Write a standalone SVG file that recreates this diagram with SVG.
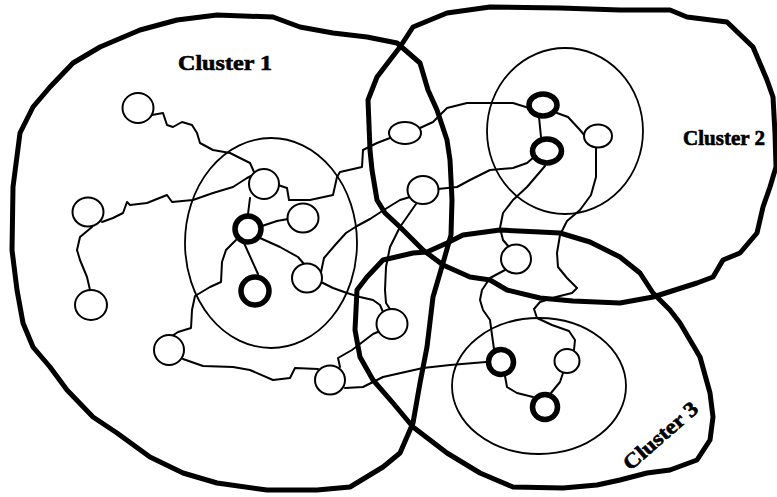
<svg xmlns="http://www.w3.org/2000/svg" width="777" height="497" viewBox="0 0 777 497">
<style>
.outline{fill:none;stroke:#000;stroke-width:5;stroke-linejoin:round;stroke-linecap:round}
.inner{fill:none;stroke:#000;stroke-width:1.8}
.edge{fill:none;stroke:#000;stroke-width:2;stroke-linejoin:round;stroke-linecap:round}
.node{fill:#fff;stroke:#000;stroke-width:2}
.hub{fill:#fff;stroke:#000;stroke-width:5.5}
.label{font-family:"Liberation Serif","Times New Roman",serif;font-weight:bold;fill:#000;stroke:#000;stroke-width:0.6}
</style>
<rect width="777" height="497" fill="#fff"/>
<g id="cluster1">
<path class="outline" d="M12,250 L13,187 L20,133 L33,107 L50,87 L73,63 L100,47 L140,30 L177,20 L217,15 L273,17 L300,27 L333,33 L367,37 L397,43 L420,63 L428,90 L437,110 L447,140 L450,160 L452,200 L451,235 L443,263 L433,297 L427,347 L420,383 L413,423 L400,453 L383,467 L350,487 L317,490 L267,490 L217,483 L183,473 L150,457 L117,433 L93,417 L67,390 L50,367 L33,347 L23,323 L17,290 Z"/>
<ellipse class="inner" cx="271" cy="243" rx="86" ry="105"/>
<text class="label" x="178" y="70" font-size="21" textLength="94" lengthAdjust="spacingAndGlyphs">Cluster 1</text>
</g>
<g id="cluster2">
<path class="outline" d="M400,47 L413,27 L447,13 L490,7 L560,8 L620,10 L670,10 L687,17 L727,22 L753,47 L767,80 L773,97 L775,133 L776,167 L770,187 L763,207 L757,233 L740,253 L723,260 L713,277 L697,283 L653,297 L620,303 L573,301 L540,298 L507,290 L490,280 L470,277 L443,265 L423,250 L400,227 L385,213 L377,200 L372,170 L370,150 L368,100 L377,77 L390,60 Z"/>
<ellipse class="inner" cx="565" cy="131" rx="78" ry="83"/>
<text class="label" x="683" y="145" font-size="20" textLength="82" lengthAdjust="spacingAndGlyphs">Cluster 2</text>
</g>
<g id="cluster3">
<path class="outline" d="M357,290 L367,277 L383,260 L413,253 L427,252 L447,243 L463,235 L500,230 L540,232 L560,233 L590,242 L620,257 L640,273 L653,293 L670,310 L680,323 L700,357 L710,393 L713,417 L710,440 L697,460 L670,470 L647,473 L620,480 L597,485 L563,488 L513,487 L480,473 L447,453 L413,427 L393,403 L373,380 L360,357 L355,330 Z"/>
<ellipse class="inner" cx="539" cy="386" rx="87" ry="68"/>
<text class="label" x="0" y="0" font-size="21" text-anchor="middle" textLength="92" lengthAdjust="spacingAndGlyphs" transform="translate(665,441) rotate(-41)">Cluster 3</text>
</g>
<g id="connectors">
<path class="edge" d="M152,115 L163,113 L167,125 L173,127 L182,122 L192,125 L197,133 L200,143 L213,150 L230,153 L240,158 L250,163 L254,172"/>
<path class="edge" d="M102,222 L113,218 L123,213 L127,202 L130,205 L147,203 L167,195 L172,202 L193,200 L213,193 L233,187 L247,178 L251,176"/>
<path class="edge" d="M92,227 L80,237 L77,250 L80,260 L87,277 L90,290"/>
<path class="edge" d="M250,198 L248,214"/>
<path class="edge" d="M278,185 L287,188 L289,200 L310,200 L333,195 L337,177 L340,172 L362,167 L363,150 L377,143 L390,138"/>
<path class="edge" d="M262,226 L277,221 L288,219"/>
<path class="edge" d="M244,243 L258,274"/>
<path class="edge" d="M236,240 L226,250 L222,262 L221,282 L210,287 L195,296 L192,310 L191,328 L178,332 L172,336"/>
<path class="edge" d="M260,238 L280,247 L298,257 L304,264"/>
<path class="edge" d="M321,272 L324,258 L336,244 L346,233 L357,226 L370,219 L387,208 L400,200 L410,197"/>
<path class="edge" d="M416,204 L400,227 L390,247 L386,267 L385,290 L386,303 L390,309"/>
<path class="edge" d="M438,189 L457,187 L470,180 L490,170 L513,168 L527,163 L534,157"/>
<path class="edge" d="M420,128 L433,122 L447,108 L467,103 L513,103 L529,108"/>
<path class="edge" d="M539,117 L541,137"/>
<path class="edge" d="M557,113 L568,117 L580,130 L585,136"/>
<path class="edge" d="M545,166 L527,187 L513,200 L503,213 L500,228 L503,240 L509,247"/>
<path class="edge" d="M596,148 L596,177 L591,195 L580,210 L567,221 L560,235 L557,253 L558,267 L567,278 L577,288 L572,293 L556,297 L540,302 L534,309 L537,318 L552,325 L569,331 L575,340 L574,350"/>
<path class="edge" d="M505,270 L490,278 L482,290 L480,300 L483,310 L490,320 L492,335 L494,349"/>
<path class="edge" d="M486,362 L450,365 L423,368 L383,377 L363,387 L345,388"/>
<path class="edge" d="M340,367 L338,358 L352,350 L373,334 L380,331"/>
<path class="edge" d="M183,359 L203,366 L233,367 L250,370 L273,380 L290,378 L295,368 L318,369"/>
<path class="edge" d="M321,282 L333,288 L347,293 L360,297 L373,300 L380,305 L383,312"/>
<path class="edge" d="M505,376 L507,387 L517,393 L533,397"/>
<path class="edge" d="M563,373 L560,382 L551,393"/>
</g>
<g id="n1"><ellipse class="node" cx="138" cy="108" rx="15.5" ry="15"/></g>
<g id="n2"><ellipse class="node" cx="88" cy="212" rx="15.5" ry="14.5"/></g>
<g id="n3"><ellipse class="node" cx="91" cy="305" rx="16" ry="15"/></g>
<g id="n4"><ellipse class="node" cx="264" cy="184" rx="15" ry="15"/></g>
<g id="n5"><ellipse class="node" cx="303" cy="218" rx="15.5" ry="14.5"/></g>
<g id="hubA"><circle class="hub" cx="248" cy="229" r="13"/></g>
<g id="hubB"><circle class="hub" cx="255" cy="291" r="14"/></g>
<g id="n6"><ellipse class="node" cx="307" cy="278" rx="15" ry="14.5"/></g>
<g id="n7"><ellipse class="node" cx="169" cy="350" rx="15" ry="15"/></g>
<g id="n8"><ellipse class="node" cx="330" cy="380" rx="15" ry="14.5"/></g>
<g id="n9"><ellipse class="node" cx="392" cy="324" rx="15.5" ry="15"/></g>
<g id="n10"><ellipse class="node" cx="405" cy="133" rx="16" ry="11"/></g>
<g id="n11"><ellipse class="node" cx="423" cy="190" rx="15.5" ry="14"/></g>
<g id="n12"><ellipse class="node" cx="516" cy="259" rx="15" ry="14.5"/></g>
<g id="hubC"><ellipse class="hub" cx="543" cy="105" rx="14" ry="11"/></g>
<g id="hubD"><ellipse class="hub" cx="547" cy="151" rx="14.5" ry="12"/></g>
<g id="n13"><ellipse class="node" cx="598" cy="136" rx="14" ry="11.5"/></g>
<g id="hubE"><circle class="hub" cx="501" cy="362" r="12.5"/></g>
<g id="n14"><ellipse class="node" cx="567" cy="361" rx="12.5" ry="12"/></g>
<g id="hubF"><circle class="hub" cx="545" cy="407" r="12.5"/></g>
</svg>
